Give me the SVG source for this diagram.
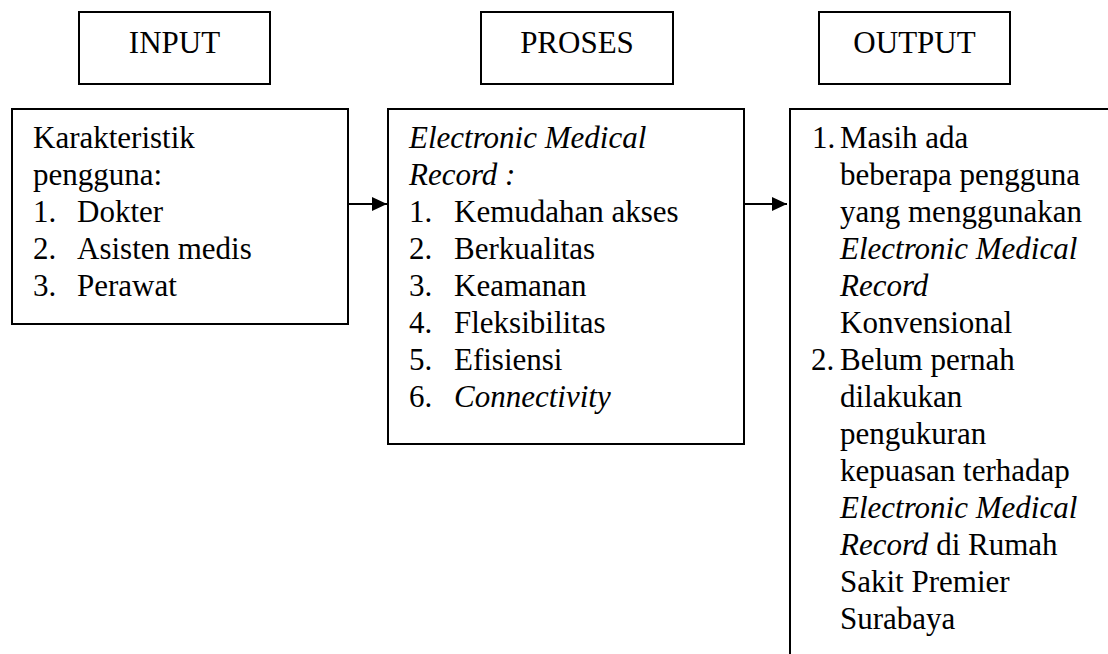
<svg xmlns="http://www.w3.org/2000/svg" width="1108" height="654" viewBox="0 0 1108 654">
<defs>
<style>
.box{fill:#fff;stroke:#000;stroke-width:2}
.t{font-family:"Liberation Serif","Times New Roman",serif;font-size:31px;fill:#000}
.c{text-anchor:middle}
.i{font-style:italic}
.ln{stroke:#000;stroke-width:2;fill:none}
</style>
<marker id="ah" markerWidth="16" markerHeight="14" refX="15" refY="7" orient="auto" markerUnits="userSpaceOnUse">
<path d="M0,0 L15,7 L0,14 Z" fill="#000"/>
</marker>
</defs>
<rect width="1108" height="654" fill="#fff"/>
<g class="t">
<g id="input-header">
<rect class="box" x="79" y="12" width="191" height="72"/>
<text class="c" x="174.5" y="53">INPUT</text>
</g>
<g id="proses-header">
<rect class="box" x="481" y="12" width="192" height="72"/>
<text class="c" x="577" y="53">PROSES</text>
</g>
<g id="output-header">
<rect class="box" x="819" y="12" width="191" height="72"/>
<text class="c" x="914.5" y="53">OUTPUT</text>
</g>
<g id="input">
<rect class="box" x="12" y="109" width="336" height="215"/>
<text x="33" y="148">Karakteristik</text>
<text x="33" y="185">pengguna:</text>
<text x="33" y="222">1.</text><text x="77" y="222">Dokter</text>
<text x="33" y="259">2.</text><text x="77" y="259">Asisten medis</text>
<text x="33" y="296">3.</text><text x="77" y="296">Perawat</text>
</g>
<g id="proses">
<rect class="box" x="388" y="109" width="356" height="335"/>
<text class="i" x="409" y="148">Electronic Medical</text>
<text class="i" x="409" y="185">Record :</text>
<text x="409" y="222">1.</text><text x="454" y="222">Kemudahan akses</text>
<text x="409" y="259">2.</text><text x="454" y="259">Berkualitas</text>
<text x="409" y="296">3.</text><text x="454" y="296">Keamanan</text>
<text x="409" y="333">4.</text><text x="454" y="333">Fleksibilitas</text>
<text x="409" y="370">5.</text><text x="454" y="370">Efisiensi</text>
<text x="409" y="407">6.</text><text class="i" x="454" y="407">Connectivity</text>
</g>
<g id="output">
<rect class="box" x="790" y="109" width="340" height="560"/>
<text x="812" y="148">1.</text><text x="840" y="148">Masih ada</text>
<text x="840" y="185">beberapa pengguna</text>
<text x="840" y="222">yang menggunakan</text>
<text class="i" x="840" y="259">Electronic Medical</text>
<text class="i" x="840" y="296">Record</text>
<text x="840" y="333">Konvensional</text>
<text x="811" y="370">2.</text><text x="840" y="370">Belum pernah</text>
<text x="840" y="407">dilakukan</text>
<text x="840" y="444">pengukuran</text>
<text x="840" y="481">kepuasan terhadap</text>
<text class="i" x="840" y="518">Electronic Medical</text>
<text x="840" y="555"><tspan class="i">Record</tspan> di Rumah</text>
<text x="840" y="592">Sakit Premier</text>
<text x="840" y="629">Surabaya</text>
</g>
</g>
<g id="connectors">
<line class="ln" x1="348" y1="204" x2="387" y2="204" marker-end="url(#ah)"/>
<line class="ln" x1="744" y1="204" x2="787" y2="204" marker-end="url(#ah)"/>
</g>
</svg>
